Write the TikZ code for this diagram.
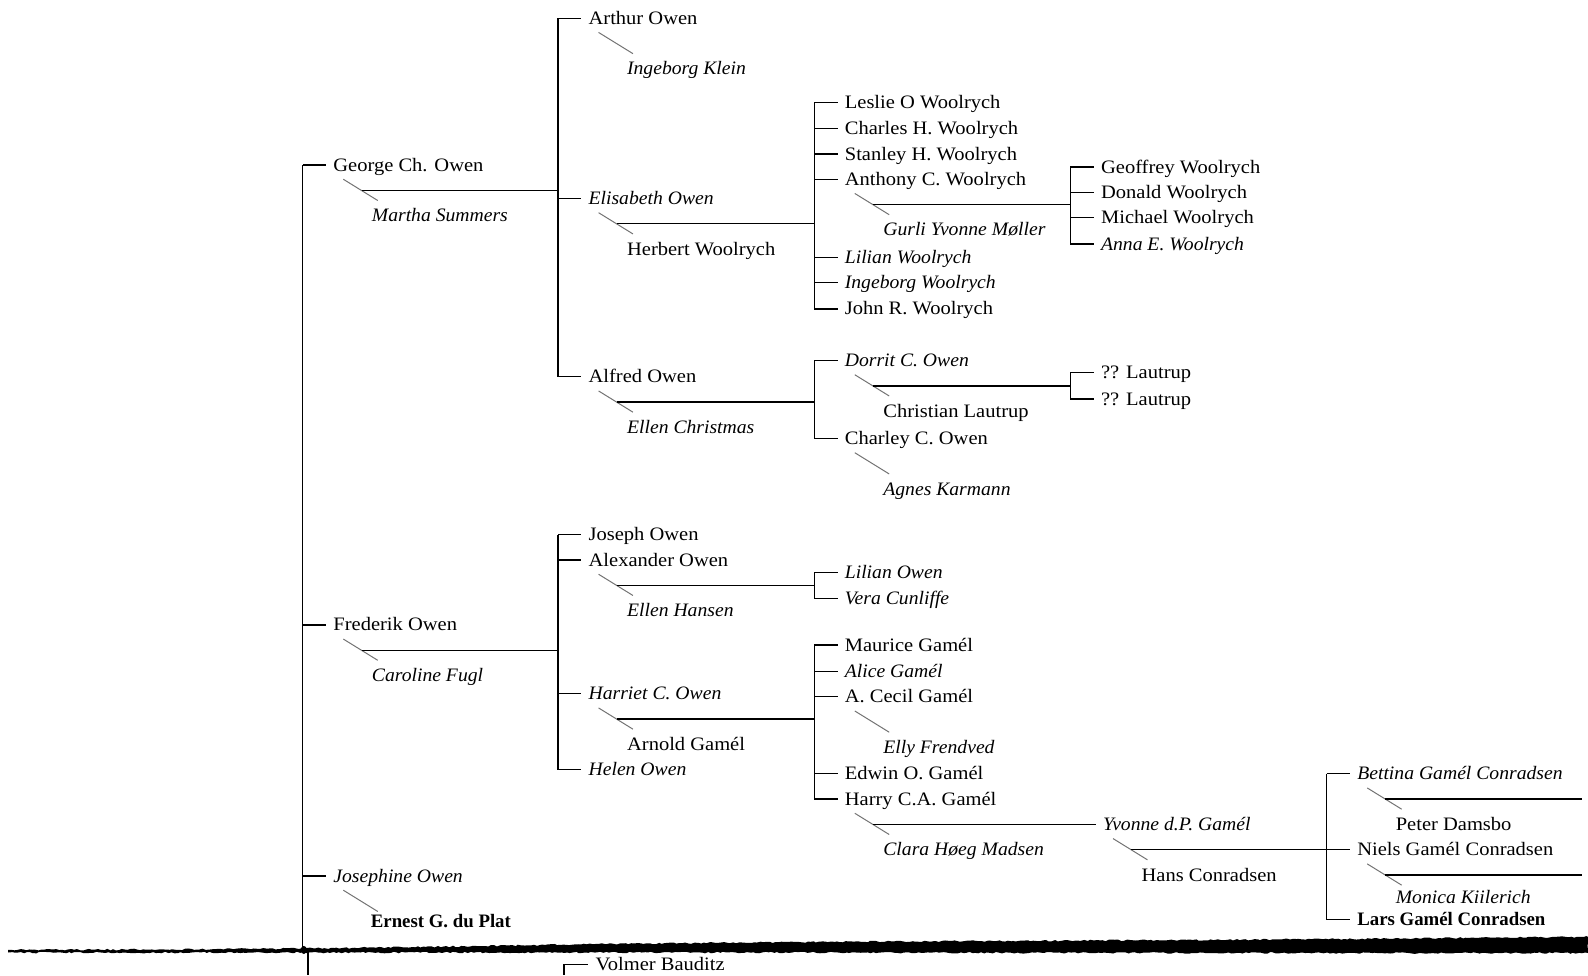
\documentclass[tikz,border=0pt]{standalone}
\usepackage{fontspec}
\setmainfont{Liberation Serif}[UprightFeatures={FakeStretch=1.08},ItalicFeatures={FakeStretch=1.035}]
\newfontfamily\darkfam{Liberation Serif}[FakeStretch=0.99]
\usetikzlibrary{calc,decorations.pathmorphing}
\tikzset{
  pn/.style={font=\fontsize{19}{22}\selectfont, inner sep=0pt, anchor=base west},
  it/.style={pn, font=\fontsize{19}{22}\selectfont\itshape},
  bd/.style={pn, font=\fontsize{19}{22}\selectfont\darkfam\bfseries},
  ln/.style={line width=1.3pt, black},
  dg/.style={line width=1pt, black!55},
}
% id, style, x, y(tick), text
\newcommand\person[5]{%
  \coordinate (#1-t) at (#3,#4);
  \node[#2] (#1) at (#3,#4+6) {#5};}
% person id, spouse id, style, text
\newcommand\spouse[4]{%
  \draw[dg] ($(#1-t)+(10,14)$) -- ($(#1-t)+(44,35)$);
  \node[#3] (#2) at ($(#1-t)+(38,56)$) {#4};}
% bracket coordinate, child id
\newcommand\kid[2]{\draw[ln] (#1 |- #2-t) -- ($(#2-t)+(-7,0)$);}
% person id, target bracket coordinate
\newcommand\marr[2]{\draw[ln] ($(#1-t)+(28,25)$) coordinate (#1-m) -- (#2 |- #1-m);}
% bracket coordinate, first child, last child
\newcommand\brak[3]{\draw[ln] (#1 |- #2-t) -- (#1 |- #3-t);}
\begin{document}
\begin{tikzpicture}[x=1.0127pt,y=-1.0127pt]
\useasboundingbox (0,0) rectangle (1568,963);
\coordinate (c0) at (299,0);
\coordinate (c1) at (551,0);
\coordinate (c2) at (804,0);
\coordinate (c3) at (1057,0);
\coordinate (c4) at (1310,0);
\coordinate (edge) at (1562,0);

% generation 1
\person{george}{pn}{329}{163}{George Ch. Owen}
\spouse{george}{martha}{it}{Martha Summers}
\person{frederik}{pn}{329}{617}{Frederik Owen}
\spouse{frederik}{caroline}{it}{Caroline Fugl}
\person{josephine}{it}{329}{865}{Josephine Owen}
\draw[dg] ($(josephine-t)+(10,14)$) -- ($(josephine-t)+(44,35)$);
\node[bd] (ernest) at (366,916) {Ernest G. du Plat};
\kid{c0}{george}\kid{c0}{frederik}\kid{c0}{josephine}
\draw[ln] (c0 |- george-t) -- (299,938);
\marr{george}{c1}
\marr{frederik}{c1}

% George's children
\person{arthur}{pn}{581}{18}{Arthur Owen}
\spouse{arthur}{ingeborgk}{it}{Ingeborg Klein}
\person{elisabeth}{it}{581}{196}{Elisabeth Owen}
\spouse{elisabeth}{herbert}{pn}{Herbert Woolrych}
\person{alfred}{pn}{581}{372}{Alfred Owen}
\spouse{alfred}{ellenc}{it}{Ellen Christmas}
\brak{c1}{arthur}{alfred}
\kid{c1}{arthur}\kid{c1}{elisabeth}\kid{c1}{alfred}
\marr{elisabeth}{c2}
\marr{alfred}{c2}

% Elisabeth's children
\person{leslie}{pn}{834}{101}{Leslie O Woolrych}
\person{charles}{pn}{834}{127}{Charles H. Woolrych}
\person{stanley}{pn}{834}{152}{Stanley H. Woolrych}
\person{anthony}{pn}{834}{177}{Anthony C. Woolrych}
\spouse{anthony}{gurli}{it}{Gurli Yvonne Møller}
\person{lilianw}{it}{834}{254}{Lilian Woolrych}
\person{ingeborgw}{it}{834}{279}{Ingeborg Woolrych}
\person{john}{pn}{834}{305}{John R. Woolrych}
\brak{c2}{leslie}{john}
\kid{c2}{leslie}\kid{c2}{charles}\kid{c2}{stanley}\kid{c2}{anthony}
\kid{c2}{lilianw}\kid{c2}{ingeborgw}\kid{c2}{john}
\marr{anthony}{c3}

% Anthony's children
\person{geoffrey}{pn}{1087}{165}{Geoffrey Woolrych}
\person{donald}{pn}{1087}{190}{Donald Woolrych}
\person{michael}{pn}{1087}{215}{Michael Woolrych}
\person{anna}{it}{1087}{241}{Anna E. Woolrych}
\brak{c3}{geoffrey}{anna}
\kid{c3}{geoffrey}\kid{c3}{donald}\kid{c3}{michael}\kid{c3}{anna}

% Alfred's children
\person{dorrit}{it}{834}{356}{Dorrit C. Owen}
\spouse{dorrit}{christian}{pn}{Christian Lautrup}
\person{charley}{pn}{834}{433}{Charley C. Owen}
\spouse{charley}{agnes}{it}{Agnes Karmann}
\brak{c2}{dorrit}{charley}
\kid{c2}{dorrit}\kid{c2}{charley}
\marr{dorrit}{c3}
\person{lautrupa}{pn}{1087}{368}{?? Lautrup}
\person{lautrupb}{pn}{1087}{394}{?? Lautrup}
\brak{c3}{lautrupa}{lautrupb}
\kid{c3}{lautrupa}\kid{c3}{lautrupb}

% Frederik's children
\person{joseph}{pn}{581}{528}{Joseph Owen}
\person{alexander}{pn}{581}{553}{Alexander Owen}
\spouse{alexander}{ellenh}{it}{Ellen Hansen}
\person{harriet}{it}{581}{685}{Harriet C. Owen}
\spouse{harriet}{arnold}{pn}{Arnold Gamél}
\person{helen}{it}{581}{760}{Helen Owen}
\brak{c1}{joseph}{helen}
\kid{c1}{joseph}\kid{c1}{alexander}\kid{c1}{harriet}\kid{c1}{helen}
\marr{alexander}{c2}
\marr{harriet}{c2}

% Alexander's children
\person{liliano}{it}{834}{565}{Lilian Owen}
\person{vera}{it}{834}{591}{Vera Cunliffe}
\brak{c2}{liliano}{vera}
\kid{c2}{liliano}\kid{c2}{vera}

% Harriet's children
\person{maurice}{pn}{834}{637}{Maurice Gamél}
\person{alice}{it}{834}{663}{Alice Gamél}
\person{cecil}{pn}{834}{688}{A. Cecil Gamél}
\spouse{cecil}{elly}{it}{Elly Frendved}
\person{edwin}{pn}{834}{764}{Edwin O. Gamél}
\person{harry}{pn}{834}{789}{Harry C.A. Gamél}
\spouse{harry}{clara}{it}{Clara Høeg Madsen}
\brak{c2}{maurice}{harry}
\kid{c2}{maurice}\kid{c2}{alice}\kid{c2}{cecil}\kid{c2}{edwin}\kid{c2}{harry}

% Harry's daughter
\person{yvonne}{it}{1089}{814}{Yvonne d.P. Gamél}
\draw[ln] ($(harry-t)+(28,25)$) -- ($(yvonne-t)+(-7,0)$);
\spouse{yvonne}{hans}{pn}{Hans Conradsen}
\marr{yvonne}{c4}

% Yvonne's children
\person{bettina}{it}{1340}{764}{Bettina Gamél Conradsen}
\spouse{bettina}{peter}{pn}{Peter Damsbo}
\person{niels}{pn}{1340}{839}{Niels Gamél Conradsen}
\draw[dg] ($(niels-t)+(10,14)$) -- ($(niels-t)+(44,35)$);
\node[it] (monica) at (1378,892) {Monica Kiilerich};
\person{lars}{bd}{1340}{908}{Lars Gamél Conradsen}
\brak{c4}{bettina}{lars}
\kid{c4}{bettina}\kid{c4}{niels}\kid{c4}{lars}
\marr{bettina}{edge}
\marr{niels}{edge}

% torn edge
\pgfmathsetseed{7}
\fill[black, decorate, decoration={random steps, segment length=3pt, amplitude=0.8pt}]
  (8,938) -- (150,937.5) -- (300,936.5) -- (420,935) -- (600,932) -- (800,930)
  -- (1000,929) -- (1200,928) -- (1400,926.5) -- (1568,925)
  -- (1568,941) -- (1200,941) -- (800,940.5) -- (400,940.5) -- (8,940.5) -- cycle;
\fill[black] (300,938) ellipse (3 and 4);

% below the tear
\draw[ln] (304,940) -- (304,963);
\person{volmer}{pn}{588}{952}{Volmer Bauditz}
\coordinate (c5) at (557,0);
\draw[ln] (c5 |- volmer-t) -- (557,963);
\kid{c5}{volmer}
\end{tikzpicture}
\end{document}
